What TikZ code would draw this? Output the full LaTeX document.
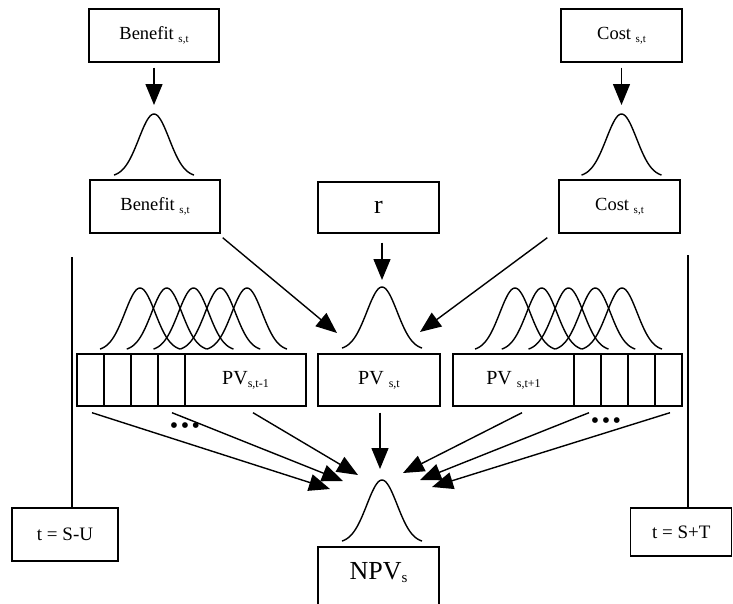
\documentclass[tikz,border=0pt]{standalone}
\usepackage{fontspec}
\setmainfont{Liberation Serif}
\usetikzlibrary{arrows.meta}
\newcommand{\lowsub}[2][11]{\raisebox{-3pt}{\fontsize{#1}{#1}\selectfont #2}}

\begin{document}
\begin{tikzpicture}[
    x=1pt, y=-1pt,
    line width=1.4pt,
    box/.style={draw, rectangle, minimum height=53pt, inner sep=0pt, font=\fontsize{18.5}{20}\selectfont},
    cell/.style={draw, rectangle, minimum width=27pt, minimum height=52pt, inner sep=0pt},
    pvcell/.style={cell, minimum width=121pt, font=\fontsize{20}{22}\selectfont},
    dots/.style={inner sep=0pt, font=\fontsize{24}{24}\selectfont},
    arrow/.style={-{Triangle[length=21pt,width=17pt]}},
    bell/.pic={
      \draw plot[domain=-40:40, samples=61, smooth] (\x,{-63*exp(-(\x*\x)/460)});
      \coordinate (-top) at (0,-63);
      \coordinate (-left) at (-45,-17);
      \coordinate (-right) at (38,-18);
    }
  ]
  \useasboundingbox (0,0) rectangle (733,603);

  % inputs
  \node[box, minimum width=130pt] (benTop) at (154,35.5) {Benefit \lowsub{s,t}};
  \node[box, minimum width=121pt] (costTop) at (621.5,35.5) {Cost \lowsub{s,t}};
  \pic (benBell) at (154,177) {bell};
  \pic (costBell) at (621.5,177) {bell};
  \node[box, minimum width=130pt] (benBot) at (155,206.5) {Benefit \lowsub{s,t}};
  \node[box, minimum width=121pt] (costBot) at (619.5,206.5) {Cost \lowsub{s,t}};
  \node[box, minimum width=121pt, minimum height=51pt, font=\fontsize{26}{28}\selectfont] (rate) at (378.5,207.5) {r};

  \draw[arrow] (benTop.south) ++(0,5) -- ([yshift=9pt]benBell-top);
  \draw[arrow] (costTop.south) ++(0,5) -- ([yshift=9pt]costBell-top);

  % present values
  \pic (pvBell) at (382,350) {bell};
  \node[box, minimum width=122pt, minimum height=52pt, font=\fontsize{20}{22}\selectfont] (pvNow) at (379,380) {PV \lowsub[12]{s,t}};
  \node[pvcell] (pvPrev) at (245.5,380) {PV\lowsub[12]{s,t-1}};
  \foreach \i in {1,...,4}
    \node[cell] (pre\i) at ({63.5+27*\i},380) {};
  \node[pvcell] (pvNext) at (513.5,380) {PV \lowsub[12]{s,t+1}};
  \foreach \i in {1,...,4}
    \node[cell] (next\i) at ({560.5+27*\i},380) {};
  \foreach \i in {0,...,4} {
    \pic (preBell\i) at ({140+26.75*\i},351) {bell};
    \pic (nextBell\i) at ({515+26.75*\i},351) {bell};
  }

  \draw[arrow] (rate.south -| pvBell-top) ++(0,9) -- ([yshift=7pt]pvBell-top);
  \draw[arrow] ([shift={(2,4)}]benBot.south east) -- (pvBell-left);
  \draw[arrow] ([shift={(-11,4)}]costBot.south west) -- (pvBell-right);

  % time span
  \coordinate (spanL) at (72,257);
  \coordinate (spanR) at (688,255);
  \node[box, minimum width=106pt, font=\fontsize{19}{21}\selectfont] (tStart) at (65,534.5) {t = S-U};
  \node[box, minimum width=101pt, minimum height=48pt, font=\fontsize{19}{21}\selectfont] (tEnd) at (681.25,532) {t = S+T};
  \draw (spanL) -- (spanL |- tStart.north);
  \draw (spanR) -- (spanR |- tEnd.north);

  % net present value
  \pic (npvBell) at (382,543) {bell};
  \node[box, minimum width=121pt, minimum height=62pt, text depth=14pt, font=\fontsize{26}{28}\selectfont] (npv) at (378.5,578) {NPV\lowsub[15]{s}};

  \foreach \src/\sx/\dx/\dy in {pre1/1.5/-52/9, pre4/0.5/-39/1, pvPrev/7.5/-24/-5, pvNow/1/-2/-11,
                                pvNext/8.5/21/-7, next1/1.5/38/0, next4/1.5/50/7}
    \draw[arrow] ([xshift=\sx pt]\src.south) ++(0,6) -- ([shift={(\dx,\dy)}]npvBell-top);

  \node[dots] (moreL) at (185,428) {\textbullet\hspace{2.5pt}\textbullet\hspace{2.5pt}\textbullet};
  \node[dots] (moreR) at (606,423) {\textbullet\hspace{2.5pt}\textbullet\hspace{2.5pt}\textbullet};
\end{tikzpicture}
\end{document}
